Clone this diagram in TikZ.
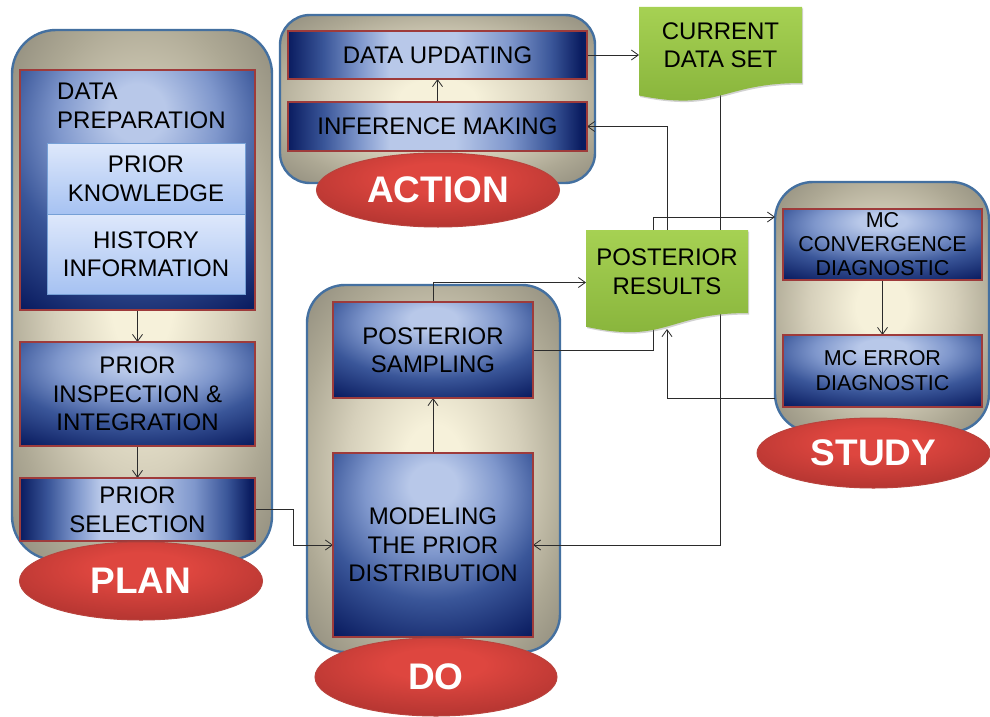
\documentclass[tikz,border=0pt]{standalone}
\usepackage{fontspec}
\setmainfont{Liberation Sans}
\usetikzlibrary{arrows.meta,calc,shadows,shapes.geometric}

\definecolor{navy}{HTML}{0A1C60}
\definecolor{midblue}{HTML}{3A5699}
\definecolor{softblue}{HTML}{7F97CC}
\definecolor{paleblue}{HTML}{B8C8E9}
\definecolor{cream}{HTML}{F6F1DA}
\definecolor{sand}{HTML}{D6D0BB}
\definecolor{greige}{HTML}{ADA894}
\definecolor{taupe}{HTML}{8E8A7B}
\definecolor{frameblue}{HTML}{4470A0}
\definecolor{boxred}{HTML}{9E3B3B}
\definecolor{redlight}{HTML}{DE463F}
\definecolor{reddark}{HTML}{A52F2C}
\definecolor{redrim}{HTML}{B9433D}
\definecolor{greentop}{HTML}{A6D153}
\definecolor{greenbot}{HTML}{86B23A}
\definecolor{subtop}{HTML}{DEE8FB}
\definecolor{subbot}{HTML}{A6C2F2}
\definecolor{subrim}{HTML}{76A0D6}
\definecolor{linkgray}{HTML}{2B2B2B}

% shadings (a shaded path spans 25bp..75bp of a shading, i.e. +-25bp round its centre)
% step boxes: light at the top centre, dark towards the bottom
\pgfdeclareradialshading{stepshade}{\pgfpoint{0bp}{17bp}}{color(0bp)=(paleblue); color(6bp)=(paleblue); color(17bp)=(softblue); color(28bp)=(midblue); color(43bp)=(navy); color(120bp)=(navy)}
% flat steps: light across the middle, dark at both ends
\pgfdeclarehorizontalshading{flatshade}{100bp}{color(0bp)=(navy); color(25bp)=(navy); color(31bp)=(midblue); color(37bp)=(softblue); color(42bp)=(paleblue); color(53bp)=(paleblue); color(62bp)=(softblue); color(69bp)=(midblue); color(74bp)=(navy); color(100bp)=(navy)}
% group panels: cream in the middle, taupe at the rim
\pgfdeclareradialshading{groupshade}{\pgfpointorigin}{color(0bp)=(cream); color(6bp)=(cream); color(17bp)=(sand); color(27bp)=(greige); color(36bp)=(taupe); color(120bp)=(taupe)}
% phase ellipses
\pgfdeclareradialshading{phaseshade}{\pgfpoint{0bp}{9bp}}{color(0bp)=(redlight); color(10bp)=(redlight); color(40bp)=(reddark); color(120bp)=(reddark)}

\pgfdeclarelayer{paper}
\pgfdeclarelayer{groups}
\pgfdeclarelayer{links}
\pgfdeclarelayer{docs}
\pgfsetlayers{paper,groups,links,docs,main}

\tikzset{
  grp/.style={rectangle, draw=frameblue, line width=2.4pt, rounded corners=#1,
    shade, shading=groupshade, inner sep=0pt, outer sep=0pt},
  stepbox/.style={rectangle, draw=boxred, line width=1.8pt, shade, shading=stepshade,
    align=center, inner sep=0pt, outer sep=0pt, font=\fontsize{24}{28.5}\selectfont},
  flatbox/.style={stepbox, shading=flatshade},
  subbox/.style={rectangle, draw=subrim, line width=0.8pt, top color=subtop, bottom color=subbot,
    align=center, inner sep=0pt, outer sep=0pt, font=\fontsize{24}{28.5}\selectfont},
  phase/.style={ellipse, draw=redrim, line width=1pt, shade, shading=phaseshade,
    inner sep=0pt, text=white, font=\bfseries\fontsize{37}{40}\selectfont},
  doctext/.style={rectangle, inner sep=0pt, outer sep=0pt, align=center,
    font=\fontsize{24}{28.5}\selectfont},
  docfill/.style={top color=greentop, bottom color=greenbot,
    drop shadow={shadow xshift=1.2pt, shadow yshift=-1.5pt, opacity=0.35}},
  link/.style={draw=linkgray, line width=0.8pt},
  arr/.style={link, -{Straight Barb[length=7pt,width=10pt]}}
}

\begin{document}
\begin{tikzpicture}[x=1pt,y=-1pt]
\begin{pgfonlayer}{paper}
\fill[white] (0,0) rectangle (990,717);
\end{pgfonlayer}
\useasboundingbox (0,0) rectangle (990,717);

% group panels
\begin{pgfonlayer}{groups}
\node[grp=44pt, minimum width=260pt, minimum height=530pt] (planc) at (142,295) {};
\node[grp=30pt, minimum width=315pt, minimum height=168pt] (actc) at (437.5,99) {};
\node[grp=38pt, minimum width=253pt, minimum height=367pt] (doc) at (433.5,468.5) {};
\node[grp=38pt, minimum width=214pt, minimum height=250pt] (studyc) at (882,307) {};
\end{pgfonlayer}

% PLAN steps
\node[stepbox, minimum width=235pt, minimum height=240pt] (prep) at (137.5,190) {};
\node[anchor=north west, inner sep=0pt, align=left, font=\fontsize{24}{28.5}\selectfont] (preptitle) at (57,83) {DATA\\PREPARATION};
\node[subbox, minimum width=198pt, minimum height=71pt] (know) at (146,178.5) {PRIOR\\KNOWLEDGE};
\node[subbox, minimum width=198pt, minimum height=80pt] (hist) at (146,254) {HISTORY\\INFORMATION};
\node[stepbox, minimum width=235pt, minimum height=104pt] (insp) at (137.5,394) {PRIOR\\INSPECTION \&\\INTEGRATION};
\node[flatbox, minimum width=235pt, minimum height=63pt] (sel) at (137.5,509.5) {PRIOR\\SELECTION};

% ACTION steps
\node[flatbox, minimum width=299pt, minimum height=48pt] (du) at (437.5,55) {DATA UPDATING};
\node[flatbox, minimum width=299pt, minimum height=49pt] (infer) at (437.5,126.5) {INFERENCE MAKING};

% DO steps
\node[stepbox, minimum width=200pt, minimum height=96pt] (psamp) at (433,350) {POSTERIOR\\SAMPLING};
\node[stepbox, minimum width=200pt, minimum height=184pt] (model) at (433,545) {MODELING\\THE PRIOR\\DISTRIBUTION};

% STUDY steps
\node[stepbox, minimum width=199pt, minimum height=71pt, font=\fontsize{21.5}{24}\selectfont] (conv) at (882.5,244.5) {MC\\CONVERGENCE\\DIAGNOSTIC};
\node[stepbox, minimum width=199pt, minimum height=72pt, font=\fontsize{21.5}{25}\selectfont] (err) at (882.5,371) {MC ERROR\\DIAGNOSTIC};

% data documents
\node[doctext, minimum width=163pt, minimum height=76pt] (cds) at (720.5,45) {CURRENT\\DATA SET};
\node[doctext, minimum width=162pt, minimum height=83pt] (post) at (667,271.5) {POSTERIOR\\RESULTS};
\begin{pgfonlayer}{docs}
\path[docfill] (cds.north west) -- (cds.north east) -- (cds.south east)
  .. controls (cds.south) and ($(cds.south)+(0,29)$) .. ($(cds.south west)+(0,12.5)$) -- cycle;
\path[docfill] (post.north west) -- (post.north east) -- (post.south east)
  .. controls (post.south) and ($(post.south)+(0,31.5)$) .. ($(post.south west)+(0,13.7)$) -- cycle;
\end{pgfonlayer}

% phase labels
\node[phase, minimum width=243pt, minimum height=78pt] (plan) at (141,581) {PLAN};
\node[phase, minimum width=243pt, minimum height=74pt] (action) at (438,190) {ACTION};
\node[phase, minimum width=242pt, minimum height=78pt] (do) at (436,677) {DO};
\node[phase, minimum width=233pt, minimum height=70pt] (study) at (873.5,453) {STUDY};

% connector end points on panel edges and document bottoms
\coordinate (convin) at ($(studyc.west |- conv.north)+(0,8)$);
\coordinate (errout) at ($(studyc.west |- err.south)+(0,-9)$);
\coordinate (postin) at ($(post.south)+(0,16)$);

% connectors
\begin{pgfonlayer}{links}
\draw[arr] (prep.south) -- (insp.north);
\draw[arr] (insp.south) -- (sel.north);
\draw[arr] (sel.east) -- ++(38,0) |- (model.west);
\draw[arr] (model.north) -- (psamp.south);
\draw[arr] (psamp.north) |- ([yshift=-11pt]post.west);
\draw[link] (psamp.east) -| ([xshift=-14pt]post.south);
\draw[arr] ([xshift=-14pt]post.north) |- (convin);
\draw[arr] (post.north) |- (infer.east);
\draw[arr] (infer.north) -- (du.south);
\draw[arr] (du.east) -- (du.east -| cds.west);
\draw[arr] (cds.south) |- (model.east);
\draw[arr] (conv.south) -- (err.north);
\draw[arr] (errout) -| (postin);
\end{pgfonlayer}
\end{tikzpicture}
\end{document}
